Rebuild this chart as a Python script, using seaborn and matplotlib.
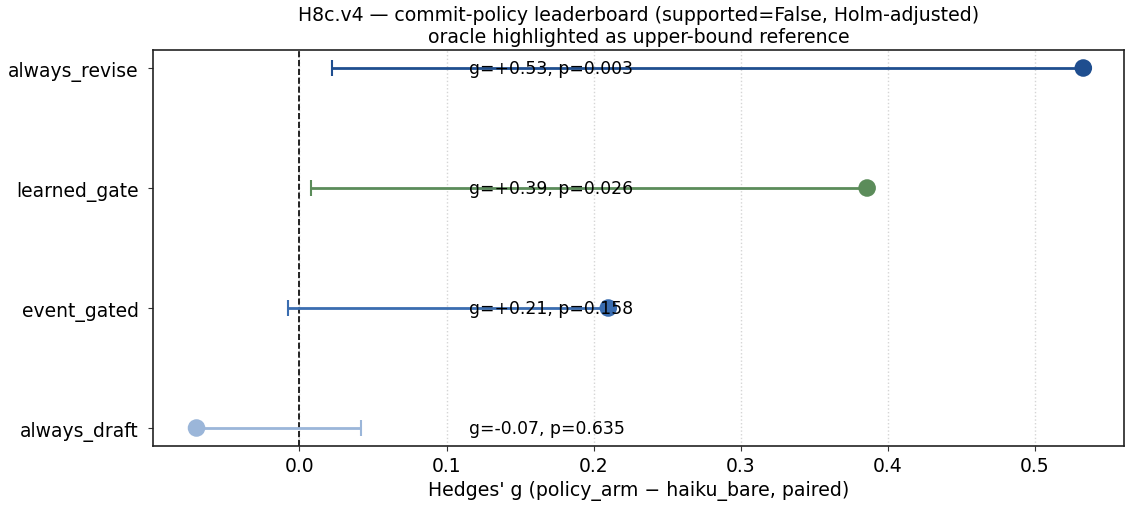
import matplotlib
matplotlib.use("Agg")
import matplotlib.pyplot as plt
import seaborn as sns
import pandas as pd

policies = ["always_revise", "learned_gate", "event_gated", "always_draft"]
g_values = [0.533, 0.386, 0.210, -0.070]
ci_lo = [0.022, 0.008, -0.008, -0.070]
ci_hi = [0.533, 0.386, 0.210, 0.042]
p_values = [0.003, 0.026, 0.158, 0.635]
colors = ["#1f4e8f", "#5b8c5a", "#3a6db0", "#9bb6d9"]

df = pd.DataFrame({"policy": policies, "g": g_values, "lo": ci_lo, "hi": ci_hi, "p": p_values})

sns.set_style("ticks")
plt.rcParams["font.family"] = ["DejaVu Sans"]
plt.rcParams["text.color"] = "black"
plt.rcParams["axes.labelcolor"] = "black"
plt.rcParams["xtick.color"] = "#333333"
plt.rcParams["ytick.color"] = "#333333"
plt.rcParams["xtick.labelcolor"] = "black"
plt.rcParams["ytick.labelcolor"] = "black"

fig = plt.figure(figsize=(11.26, 5.06), dpi=100)
ax = fig.add_axes([0.136, 0.1166, 0.862, 0.7826])

ypos = list(range(len(policies)))
for i, row in df.iterrows():
    ax.errorbar(row["g"], ypos[i], xerr=[[row["g"] - row["lo"]], [row["hi"] - row["g"]]],
                fmt="none", ecolor=colors[i], elinewidth=2, capsize=6, capthick=1.5, zorder=2)

sns.scatterplot(data=df, x="g", y=ypos, hue="policy", palette=colors, s=160,
                edgecolor="none", legend=False, ax=ax, zorder=3)

for i, row in df.iterrows():
    label = f"g={row['g']:+.2f}, p={row['p']:.3f}" if row["g"] >= 0 else f"g={row['g']:.2f}, p={row['p']:.3f}"
    ax.text(0.1155, ypos[i], label, va="center", ha="left", fontsize=12.4, color="black", zorder=4)

ax.axvline(0, color="black", linestyle="--", linewidth=1.2, zorder=1)
ax.set_yticks(ypos)
ax.set_yticklabels(policies, fontsize=13.5)
ax.set_ylim(3.15, -0.15)
ax.set_xlim(-0.0995, 0.5605)
ax.tick_params(axis="x", labelsize=13.5)
ax.tick_params(axis="y", pad=7)
ax.grid(axis="x", linestyle=":", color="#d5d5d5", linewidth=1)
ax.set_axisbelow(True)
for s in ax.spines.values():
    s.set_color("#222222")
    s.set_linewidth(1.2)
ax.set_xlabel("Hedges' g (policy_arm \u2212 haiku_bare, paired)", fontsize=13.6)
ax.set_ylabel("")
ax.set_title("H8c.v4 \u2014 commit-policy leaderboard (supported=False, Holm-adjusted)\noracle highlighted as upper-bound reference",
             fontsize=13.6)

fig.savefig("out.png", dpi=100)
